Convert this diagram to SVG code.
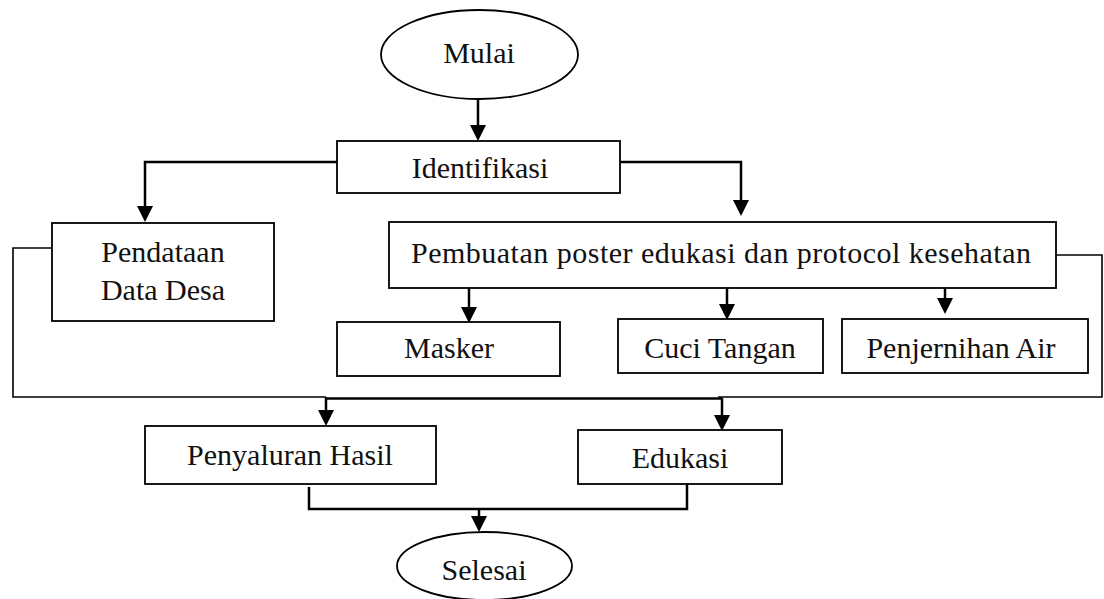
<svg xmlns="http://www.w3.org/2000/svg" width="1104" height="599" viewBox="0 0 1104 599">
<style>
.box{fill:#fff;stroke:#000;stroke-width:1.8}
.t{font-family:"Liberation Serif","Times New Roman",serif;font-size:30px;fill:#111;text-anchor:middle}
.c{fill:none;stroke:#000;stroke-width:2.5}
.thin{fill:none;stroke:#000;stroke-width:1.6}
</style>
<defs>
<marker id="arr" viewBox="0 -9 17 18" markerWidth="17" markerHeight="18" refX="10" refY="0" markerUnits="userSpaceOnUse" orient="auto">
<path d="M0,-8 L16,0 L0,8 z" fill="#000"/>
</marker>
</defs>
<rect width="1104" height="599" fill="#fff"/>
<g id="connectors">
<path class="c" d="M478,99 V135" marker-end="url(#arr)"/>
<path class="c" d="M337,162 H145 V216" marker-end="url(#arr)"/>
<path class="c" d="M620,162 H741 V210" marker-end="url(#arr)"/>
<path class="c" d="M469,288 V317" marker-end="url(#arr)"/>
<path class="c" d="M727,288 V314" marker-end="url(#arr)"/>
<path class="c" d="M945,279 V308" marker-end="url(#arr)"/>
<path class="thin" d="M53,248 H13 V397 H326"/>
<path class="thin" d="M1056,255 H1102 V397 H718"/>
<path class="c" d="M326,398.5 H722"/>
<path class="c" d="M326,397 V420" marker-end="url(#arr)"/>
<path class="c" d="M722,398 V425" marker-end="url(#arr)"/>
<path class="c" d="M309,487 V509 H687 V484"/>
<path class="c" d="M479,509 V526" marker-end="url(#arr)"/>
</g>
<g id="mulai">
<ellipse class="box" cx="479.5" cy="54.5" rx="98.5" ry="44.5"/>
<text class="t" x="479" y="63">Mulai</text>
</g>
<g id="identifikasi">
<rect class="box" x="337" y="141" width="283" height="52"/>
<text class="t" x="480" y="178">Identifikasi</text>
</g>
<g id="pendataan">
<rect class="box" x="52" y="223" width="222" height="98"/>
<text class="t" x="163" y="262">Pendataan</text>
<text class="t" x="163" y="300">Data Desa</text>
</g>
<g id="pembuatan">
<rect class="box" x="389" y="222" width="667" height="66"/>
<text class="t" x="721" y="263" textLength="620" lengthAdjust="spacing">Pembuatan poster edukasi dan protocol kesehatan</text>
</g>
<g id="masker">
<rect class="box" x="337" y="322" width="223" height="54"/>
<text class="t" x="449" y="358">Masker</text>
</g>
<g id="cuci-tangan">
<rect class="box" x="618" y="319" width="205" height="54"/>
<text class="t" x="720" y="358">Cuci Tangan</text>
</g>
<g id="penjernihan-air">
<rect class="box" x="842" y="319" width="246" height="54"/>
<text class="t" x="961" y="358">Penjernihan Air</text>
</g>
<g id="penyaluran-hasil">
<rect class="box" x="145" y="426" width="291" height="58"/>
<text class="t" x="290" y="465">Penyaluran Hasil</text>
</g>
<g id="edukasi">
<rect class="box" x="578" y="430" width="204" height="54"/>
<text class="t" x="680" y="468">Edukasi</text>
</g>
<g id="selesai">
<ellipse class="box" cx="484.5" cy="566" rx="87.5" ry="34"/>
<text class="t" x="484" y="580">Selesai</text>
</g>
</svg>
